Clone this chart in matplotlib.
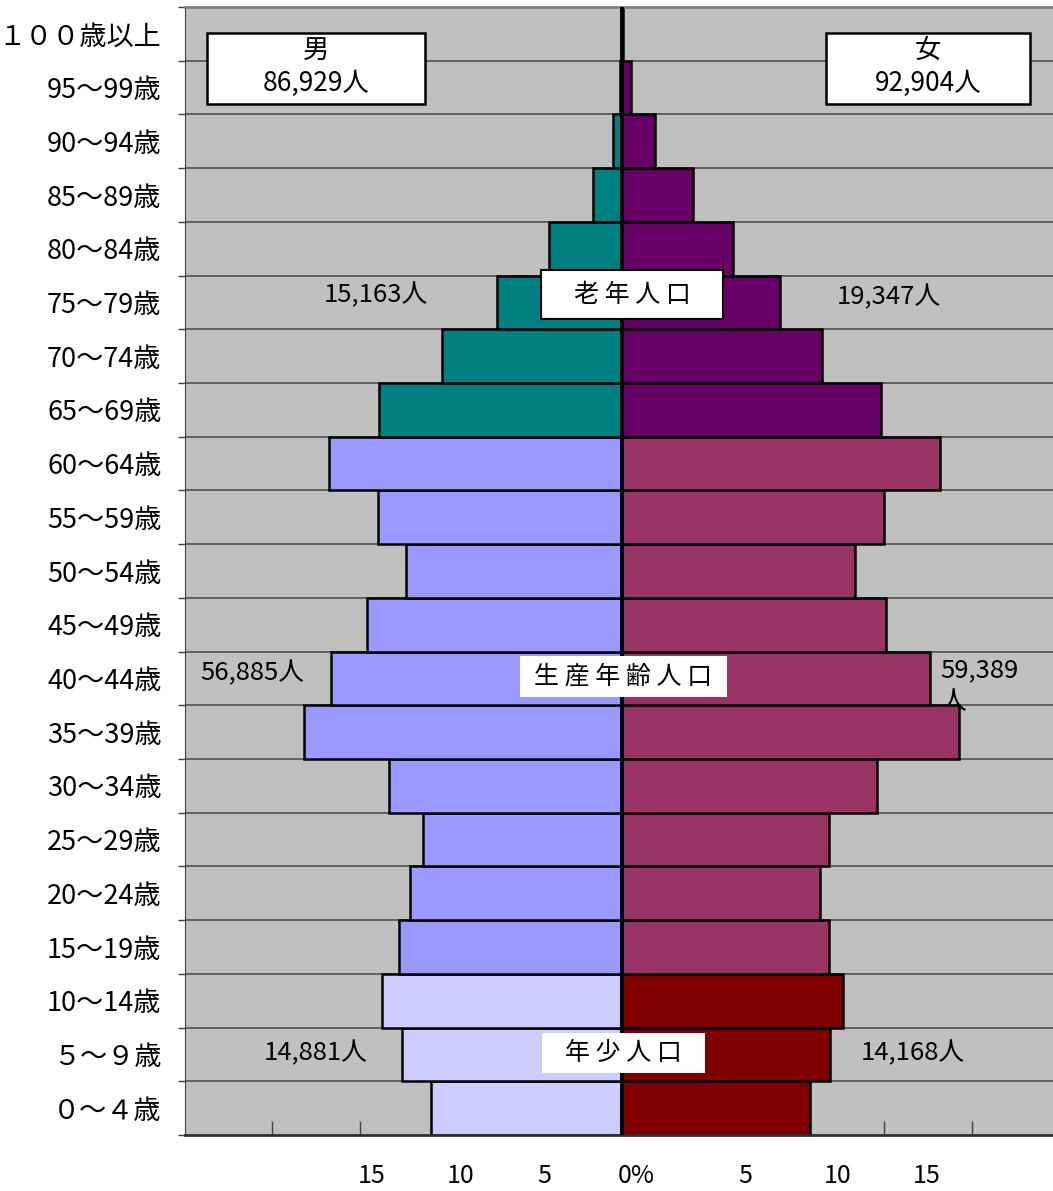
import numpy as np
import matplotlib
matplotlib.use('Agg')
import matplotlib.pyplot as plt
from matplotlib.patches import Rectangle

plt.rcParams['font.family'] = ['Noto Sans CJK JP', 'DejaVu Sans']

# 年齢階級（下から上）
ages = ['０～４歳', '５～９歳', '10～14歳', '15～19歳', '20～24歳', '25～29歳',
        '30～34歳', '35～39歳', '40～44歳', '45～49歳', '50～54歳', '55～59歳',
        '60～64歳', '65～69歳', '70～74歳', '75～79歳', '80～84歳', '85～89歳',
        '90～94歳', '95～99歳', '１００歳以上']

# 人口（人）
male = [4374, 5038, 5496, 5107, 4855, 4557, 5336, 7282, 6664, 5840, 4946, 5588,
        6710, 5560, 4130, 2870, 1660, 660, 210, 45, 10]
female = [4305, 4763, 5061, 4740, 4534, 4740, 5840, 7717, 7053, 6046, 5336, 6000,
          7282, 5931, 4580, 3618, 2542, 1626, 756, 206, 30]

# 区分ごとの色
male_colors = ['#CCCCFF'] * 3 + ['#9999FF'] * 10 + ['#008080'] * 8
female_colors = ['#800000'] * 3 + ['#993366'] * 10 + ['#660066'] * 8

x_ticks = [-8000, -6000, -4000, -2000, 2000, 4000, 6000, 8000]
x_label_pos = [-5725, -3687, -1770, 334, 2817, 4924, 6962]
x_labels = ['15', '10', '5', '0%', '5', '10', '15']

fig = plt.figure(figsize=(10.53, 11.91), dpi=100)
ax = fig.add_axes([185 / 1053, 1 - 1135 / 1191, 874 / 1053, 1128 / 1191])
ax.set_facecolor('#C0C0C0')

y = np.arange(len(ages))
ax.barh(y, [-v for v in male], height=1.0, color=male_colors, edgecolor='black', linewidth=1.8, zorder=2)
ax.barh(y, female, height=1.0, color=female_colors, edgecolor='black', linewidth=1.8, zorder=2)
ax.axvline(0, color='black', lw=2.8, zorder=4)

ax.set_xlim(-10000, 10000)
ax.set_ylim(-0.5, len(ages) - 0.5)

# 横の区切り線
for b in np.arange(0.5, len(ages) - 0.5, 1):
    ax.axhline(b, color='#505050', lw=1.2, zorder=1)

ax.set_yticks(np.arange(-0.5, len(ages), 1))
ax.set_yticklabels([])
ax.tick_params(axis='y', which='major', length=5, width=1, color='#404040', direction='out')
ax.set_yticks(y, minor=True)
ax.set_yticklabels(ages, minor=True, fontsize=19.5)
ax.tick_params(axis='y', which='minor', length=0, pad=17)

ax.set_xticks(x_ticks, minor=True)
ax.tick_params(axis='x', which='minor', length=10, width=1, color='#404040', direction='in')
ax.set_xticks(x_label_pos)
ax.set_xticklabels(x_labels, fontsize=18)
ax.tick_params(axis='x', which='major', length=0, pad=20)

ax.spines['right'].set_visible(False)
ax.spines['top'].set_color('#808080')
ax.spines['top'].set_linewidth(2)
ax.spines['left'].set_color('#404040')
ax.spines['bottom'].set_color('#303030')
ax.spines['bottom'].set_linewidth(2)

# 男女の合計ボックス
ax.add_patch(Rectangle((-9504, 18.694), 4993, 1.322, facecolor='white', edgecolor='black', lw=1.8, zorder=5))
ax.text(-7007, 19.70, '男', ha='center', va='center', fontsize=19, zorder=6)
ax.text(-7007, 19.07, '86,929人', ha='center', va='center', fontsize=19, zorder=6)
ax.add_patch(Rectangle((4672, 18.694), 4671, 1.322, facecolor='white', edgecolor='black', lw=1.8, zorder=5))
ax.text(7007, 19.70, '女', ha='center', va='center', fontsize=19, zorder=6)
ax.text(7007, 19.07, '92,904人', ha='center', va='center', fontsize=19, zorder=6)

# 区分ラベル
ax.add_patch(Rectangle((-1855, 14.691), 4168, 0.912, facecolor='white', edgecolor='black', lw=1.5, zorder=5))
ax.text(229, 15.14, '老 年 人 口', ha='center', va='center', fontsize=18, zorder=6)
ax.add_patch(Rectangle((-2336, 7.653), 4740, 0.763, facecolor='white', edgecolor='none', zorder=5))
ax.text(23, 8.04, '生 産 年 齢 人 口', ha='center', va='center', fontsize=18, zorder=6)
ax.add_patch(Rectangle((-1832, 0.652), 3733, 0.745, facecolor='white', edgecolor='none', zorder=5))
ax.text(23, 1.025, '年 少 人 口', ha='center', va='center', fontsize=18, zorder=6)

# 区分人口
ax.text(-5633, 15.14, '15,163人', ha='center', va='center', fontsize=18.5, zorder=6)
ax.text(6114, 15.10, '19,347人', ha='center', va='center', fontsize=18.5, zorder=6)
ax.text(-8450, 8.10, '56,885人', ha='center', va='center', fontsize=18.5, zorder=6)
ax.text(7282, 8.16, '59,389', ha='left', va='center', fontsize=18.5, zorder=6)
ax.text(7580, 7.55, '人', ha='center', va='center', fontsize=18.5, zorder=1.5)
ax.text(-7007, 1.025, '14,881人', ha='center', va='center', fontsize=18.5, zorder=6)
ax.text(6664, 1.025, '14,168人', ha='center', va='center', fontsize=18.5, zorder=6)

fig.savefig('out.png', dpi=100)
